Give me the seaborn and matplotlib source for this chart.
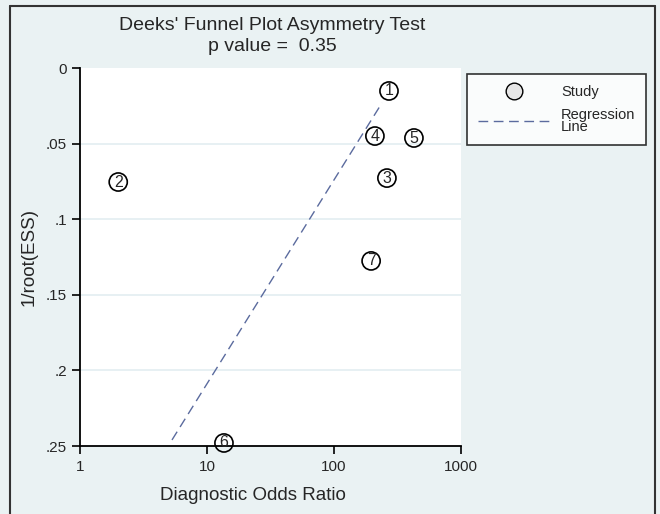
import matplotlib
matplotlib.use("Agg")
import matplotlib.pyplot as plt
import seaborn as sns
import pandas as pd
from matplotlib.lines import Line2D
from matplotlib.ticker import FixedLocator, FixedFormatter

study_ids = ["1", "2", "3", "4", "5", "6", "7"]
dor = [271, 2.0, 261, 210, 426, 13.6, 196]
inv_root_ess = [0.0152, 0.0754, 0.0728, 0.0450, 0.0463, 0.2480, 0.1276]
reg_x = [5.3, 239]
reg_y = [0.246, 0.023]
x_ticks = [1, 10, 100, 1000]
x_tick_labels = ["1", "10", "100", "1000"]
y_ticks = [0, 0.05, 0.1, 0.15, 0.2, 0.25]
y_tick_labels = ["0", ".05", ".1", ".15", ".2", ".25"]

sns.set_style("white")
plt.rcParams['font.family'] = ['Liberation Sans', 'DejaVu Sans']

bg = "#eaf2f3"
fig = plt.figure(figsize=(6.6, 5.14), dpi=100, facecolor=bg)
ax = fig.add_axes([80/660, 1-446/514, 381/660, 378/514])
ax.set_facecolor("white")

df = pd.DataFrame({"id": study_ids, "dor": dor, "y": inv_root_ess})
reg = pd.DataFrame({"x": reg_x, "y": reg_y})

ax.set_xscale("log")
sns.lineplot(data=reg, x="x", y="y", ax=ax, color="#5b6b9e", lw=1.0,
             linestyle=(0, (7, 4)), legend=False)
sns.scatterplot(data=df, x="dor", y="y", ax=ax, s=170, marker="o",
                facecolor="none", edgecolor="black", linewidth=1.2, legend=False,
                zorder=3, clip_on=False)
for _, r in df.iterrows():
    ax.text(r["dor"], r["y"], r["id"], ha="center", va="center", fontsize=11.5,
            zorder=4, clip_on=False)

ax.set_xlim(1, 1000)
ax.set_ylim(0.25, 0)
ax.xaxis.set_major_locator(FixedLocator(x_ticks))
ax.xaxis.set_major_formatter(FixedFormatter(x_tick_labels))
ax.xaxis.set_minor_locator(FixedLocator([]))
ax.yaxis.set_major_locator(FixedLocator(y_ticks))
ax.yaxis.set_major_formatter(FixedFormatter(y_tick_labels))
ax.tick_params(axis="both", which="major", direction="out", length=6, width=1.2,
               labelsize=11, color="black", left=True, bottom=True)
ax.tick_params(axis="x", pad=4)
for y in [0.05, 0.1, 0.15, 0.2]:
    ax.axhline(y, color="#e3eef1", lw=1.2, zorder=0)
for s in ["top", "right"]:
    ax.spines[s].set_visible(False)
for s in ["left", "bottom"]:
    ax.spines[s].set_color("black")
    ax.spines[s].set_linewidth(1.3)

ax.set_xlabel("Diagnostic Odds Ratio", fontsize=13.5)
ax.xaxis.set_label_coords((253-80)/381, -(495-446)/378)
ax.xaxis.label.set_va("center")
ax.set_ylabel("1/root(ESS)", fontsize=13.5)
ax.yaxis.set_label_coords(-(80-29)/381, (446-257)/378)
ax.yaxis.label.set_va("center")

fig.text(272/660, 1-36/514, "Deeks' Funnel Plot Asymmetry Test\np value =  0.35",
         ha="center", va="center", fontsize=14, linespacing=1.25)

handles = [
    Line2D([], [], marker="o", linestyle="none", markersize=12,
           markerfacecolor="#e6e6e6", markeredgecolor="black", markeredgewidth=1.0),
    Line2D([], [], color="#5b6b9e", lw=1.0, linestyle=(0, (7, 4))),
]
leg = fig.legend(handles, ["Study", "Regression\nLine"], loc="upper left",
                 bbox_to_anchor=(467/660, 1-74/514), frameon=True, fancybox=False,
                 edgecolor="black", facecolor="white", fontsize=10.5,
                 handlelength=4.9, borderpad=0.75, labelspacing=0.6,
                 handletextpad=0.8, borderaxespad=0)
leg.get_frame().set_linewidth(1.2)
for t in leg.get_texts():
    t.set_linespacing(0.85)

for xs in [10/660, 655/660]:
    fig.add_artist(Line2D([xs, xs], [0, 1-5.5/514], transform=fig.transFigure,
                          color="#333333", lw=1.5))
fig.add_artist(Line2D([10/660, 655/660], [1-5.5/514, 1-5.5/514], transform=fig.transFigure,
                      color="#333333", lw=1.5))

fig.savefig("out.png", dpi=100, facecolor=bg)
